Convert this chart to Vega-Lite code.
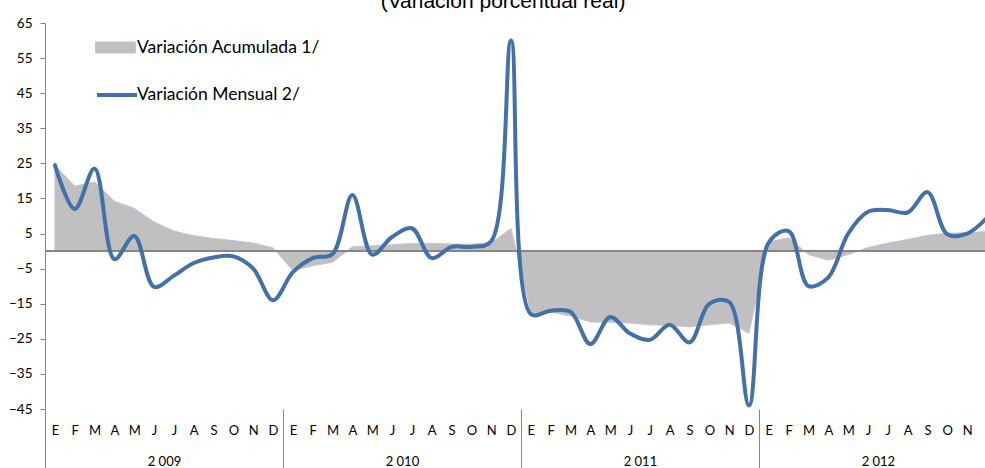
{
  "$schema": "https://vega.github.io/schema/vega-lite/v6.json",
  "width": 940,
  "height": 386,
  "autosize": "none",
  "padding": {"left": 45, "top": 23, "right": 0, "bottom": 59},
  "background": "white",
  "title": {"text": "(Variación porcentual real)", "font": "Liberation Sans", "fontSize": 21, "fontWeight": "normal", "color": "#000000", "anchor": "middle", "frame": "group", "baseline": "alphabetic", "offset": -13, "dx": -12},
  "config": {
    "view": {"stroke": null},
    "axis": {"labelFont": "Lato", "labelFontSize": 13, "labelColor": "#000000", "domainColor": "#868686", "tickColor": "#868686", "grid": false, "title": null},
    "axisY": {"labelOverlap": false, "labelBound": false, "labelFontSize": 13.5},
    "legend": {
      "orient": "none", "direction": "vertical", "padding": 0,
      "symbolSize": 1600,
      "labelFont": "Lato", "labelFontSize": 17.5, "labelColor": "#000000", "labelLimit": 400, "title": null
    }
  },
  "data": {"values": [
    {"i": 0, "mensual": 24.5, "acumulada": 24.5},
    {"i": 1, "mensual": 12, "acumulada": 18.5},
    {"i": 2, "mensual": 23.5, "acumulada": 19.7},
    {"i": 3, "mensual": -2.3, "acumulada": 14.2},
    {"i": 4, "mensual": 4.3, "acumulada": 12.2},
    {"i": 5, "mensual": -10.2, "acumulada": 8.3},
    {"i": 6, "mensual": -7, "acumulada": 5.7},
    {"i": 7, "mensual": -3.4, "acumulada": 4.4},
    {"i": 8, "mensual": -1.8, "acumulada": 3.6},
    {"i": 9, "mensual": -1.5, "acumulada": 3.0},
    {"i": 10, "mensual": -5, "acumulada": 2.3},
    {"i": 11, "mensual": -14, "acumulada": 0.9},
    {"i": 12, "mensual": -6, "acumulada": -5.5},
    {"i": 13, "mensual": -2, "acumulada": -4.2},
    {"i": 14, "mensual": -0.8, "acumulada": -3.2},
    {"i": 15, "mensual": 16, "acumulada": 1.2},
    {"i": 16, "mensual": -1, "acumulada": 1.5},
    {"i": 17, "mensual": 4, "acumulada": 1.8},
    {"i": 18, "mensual": 6.5, "acumulada": 2.2},
    {"i": 19, "mensual": -2, "acumulada": 2.2},
    {"i": 20, "mensual": 1.2, "acumulada": 2.0},
    {"i": 21, "mensual": 1.2, "acumulada": 2.0},
    {"i": 22, "mensual": 2.8, "acumulada": 2.3},
    {"i": 23, "mensual": 60, "acumulada": 6.5},
    {"i": 24, "mensual": -18, "acumulada": -17.7},
    {"i": 25, "mensual": -17, "acumulada": -17.4},
    {"i": 26, "mensual": -17.3, "acumulada": -18.5},
    {"i": 27, "mensual": -26.5, "acumulada": -20.2},
    {"i": 28, "mensual": -18.8, "acumulada": -20.3},
    {"i": 29, "mensual": -23.5, "acumulada": -20.5},
    {"i": 30, "mensual": -25.3, "acumulada": -21},
    {"i": 31, "mensual": -21, "acumulada": -21.2},
    {"i": 32, "mensual": -26, "acumulada": -21.6},
    {"i": 33, "mensual": -15, "acumulada": -21},
    {"i": 34, "mensual": -14.5, "acumulada": -20.5},
    {"i": 35, "mensual": -44, "acumulada": -23.4},
    {"i": 36, "mensual": 2.5, "acumulada": 2.6},
    {"i": 37, "mensual": 5.7, "acumulada": 3.8},
    {"i": 38, "mensual": -10, "acumulada": -1},
    {"i": 39, "mensual": -7.5, "acumulada": -2.6},
    {"i": 40, "mensual": 5, "acumulada": -1},
    {"i": 41, "mensual": 11.2, "acumulada": 1},
    {"i": 42, "mensual": 11.7, "acumulada": 2.3},
    {"i": 43, "mensual": 11, "acumulada": 3.3},
    {"i": 44, "mensual": 16.8, "acumulada": 4.5},
    {"i": 45, "mensual": 4.8, "acumulada": 5.1},
    {"i": 46, "mensual": 5, "acumulada": 5.2},
    {"i": 47, "mensual": 9.5, "acumulada": 5.6}
  ]},
  "resolve": {"axis": {"x": "independent"}},
  "layer": [
    {
      "mark": {"type": "area", "interpolate": "linear", "stroke": "#CBC0DD", "strokeWidth": 1, "clip": true},
      "encoding": {
        "x": {"field": "i", "type": "quantitative", "scale": {"domain": [-0.5, 46.9], "nice": false, "zero": false},
              "axis": {"values": [-0.5, 11.5, 23.5, 35.5], "labels": false, "domain": false, "ticks": true, "tickSize": 60, "tickWidth": 1, "orient": "bottom"}},
        "y": {"field": "acumulada", "type": "quantitative", "scale": {"domain": [-45, 65], "nice": false, "zero": false},
              "axis": {"values": [-45, -35, -25, -15, -5, 5, 15, 25, 35, 45, 55, 65], "tickSize": 5, "labelPadding": 8, "labelOverlap": false, "labelBound": false, "domain": true, "domainWidth": 1}},
        "y2": {"datum": 0},
        "fill": {"datum": "Variación Acumulada 1/", "scale": {"range": ["#C0C0C0"]},
                 "legend": {"legendX": 50, "legendY": 4, "labelOffset": 1, "symbolType": "M-1,-0.28H1V0.28H-1Z", "symbolStrokeColor": "#CBC0DD", "symbolStrokeWidth": 1, "symbolOpacity": 1}}
      }
    },
    {
      "mark": {"type": "rule", "color": "#868686", "strokeWidth": 1.5},
      "encoding": {
        "x": {"datum": -0.5, "type": "quantitative",
              "axis": {"values": [5.5, 17.5, 29.5, 41.5], "labelExpr": "['2 009','2 010','2 011','2 012'][floor(datum.value / 12)]", "ticks": false, "domain": false, "labelPadding": 46, "orient": "bottom"}},
        "x2": {"datum": 46.9},
        "y": {"datum": 0, "type": "quantitative", "axis": {"values": [-45, -35, -25, -15, -5, 5, 15, 25, 35, 45, 55, 65], "labelOverlap": false}}
      }
    },
    {
      "mark": {"type": "line", "interpolate": "catmull-rom", "strokeWidth": 4, "strokeCap": "round", "clip": true},
      "encoding": {
        "x": {"field": "i", "type": "quantitative",
              "axis": {"values": [0,1,2,3,4,5,6,7,8,9,10,11,12,13,14,15,16,17,18,19,20,21,22,23,24,25,26,27,28,29,30,31,32,33,34,35,36,37,38,39,40,41,42,43,44,45,46],
                       "labelExpr": "['E','F','M','A','M','J','J','A','S','O','N','D'][datum.value % 12]", "ticks": false, "domain": false, "labelPadding": 15, "labelOverlap": false, "orient": "bottom"}},
        "y": {"field": "mensual", "type": "quantitative", "axis": {"values": [-45, -35, -25, -15, -5, 5, 15, 25, 35, 45, 55, 65], "labelOverlap": false}},
        "stroke": {"datum": "Variación Mensual 2/", "scale": {"range": ["#4470A8"]},
                   "legend": {"legendX": 50, "legendY": 50, "labelOffset": -2, "symbolType": "stroke", "symbolStrokeWidth": 4}}
      }
    }
  ]
}
